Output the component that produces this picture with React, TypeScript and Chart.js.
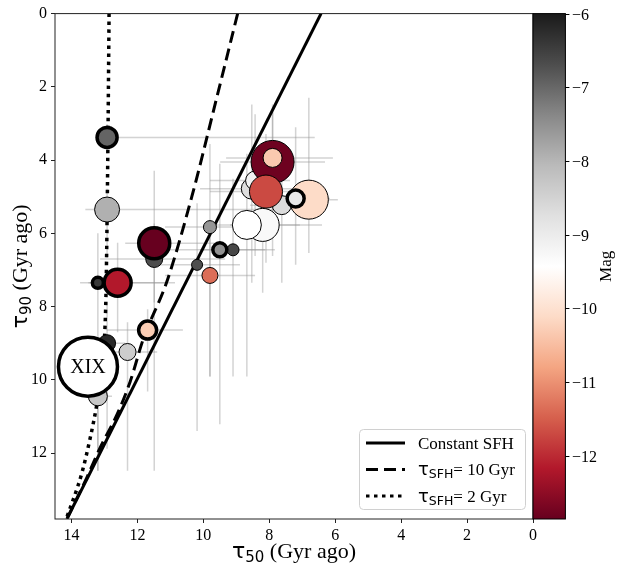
import React, { useEffect, useRef } from "react";
import { Chart, registerables } from "chart.js";

Chart.register(...registerables);

// ---------------- data ----------------
const pointLabels = ["", "", "", "", "", "", "", "", "", "", "", "", "", "", "", "XIX", "", "", "", "", "", "", "", "", "", ""];
const tau50 = [12.92, 12.92, 11.49, 11.49, 9.8, 10.19, 9.8, 9.1, 9.5, 12.6, 13.2, 11.69, 12.3, 12.92, 13.2, 13.5, 8.53, 8.43, 7.62, 7.9, 7.9, 8.1, 8.2, 8.68, 6.8, 7.2];
const tau90 = [3.38, 5.35, 6.7, 6.27, 5.83, 6.86, 7.15, 6.45, 6.45, 7.35, 7.35, 8.64, 9.24, 9.0, 10.45, 9.64, 4.78, 4.56, 5.23, 4.05, 3.94, 4.86, 5.77, 5.77, 5.08, 5.05];
const magV = [-6.96, -7.92, -6.69, -12.86, -7.58, -6.7, -11.35, -6.6, -7.5, -12.17, -6.4, -10.3, -8.4, -6.2, -8.3, -9.43, -8.7, -9.15, -8.65, -12.8, -10.35, -11.7, -9.3, -9.43, -10.1, -8.95];
const bubbleR = [10, 12.5, 8.5, 15.5, 6.5, 5.5, 8, 6, 7, 13.5, 5.5, 9, 8.5, 8.5, 9.5, 29.5, 10.5, 9.5, 9.5, 21.5, 9.5, 16.5, 16.5, 14.5, 19.5, 8.5];
const highlighted = [1, 0, 0, 1, 0, 0, 0, 0, 1, 1, 1, 1, 0, 0, 0, 1, 0, 0, 0, 0, 0, 0, 0, 0, 0, 1];
const tau50Old = [13.28, 13.58, 13.13, 12.37, 11.16, 11.46, 11.16, 10.1, 11.31, 13.49, 13.74, 12.93, 13.04, 13.28, 13.58, 13.8, 10.1, 9.8, 8.58, 9.49, 9.31, 9.8, 9.19, 9.65, 7.68, 8.28];
const tau50Young = [6.62, 7.07, 9.34, 9.65, 8.28, 8.89, 8.43, 7.83, 8.13, 10.86, 11.16, 10.62, 11.4, 12.37, 12.77, 13.2, 7.07, 7.37, 6.46, 6.31, 6.07, 6.77, 6.4, 7.07, 5.92, 6.16];
const tau90Young = [3.02, 4.78, 5.73, 4.29, 3.56, 5.18, 5.86, 4.51, 4.1, 6.26, 6.0, 8.07, 8.43, 7.89, 9.78, 9.3, 2.48, 2.75, 3.56, 2.67, 2.48, 3.29, 3.83, 3.83, 2.3, 3.1];
const tau90Old = [3.83, 6.67, 12.48, 7.89, 9.91, 11.4, 9.91, 9.91, 11.21, 8.7, 12.48, 10.32, 12.48, 11.88, 12.48, 10.0, 7.35, 6.62, 7.35, 6.0, 6.62, 6.8, 7.62, 9.91, 6.54, 6.86];

const constTau50 = [6.43, 14.14];
const constTau90 = [0, 13.8];
const sfh10Tau50 = [8.96, 9.65, 10.35, 11.1, 11.82, 12.22, 12.62, 13.13, 13.53, 14.14];
const sfh10Tau90 = [0, 2.5, 5.0, 7.3, 8.88, 10.05, 10.95, 11.85, 12.66, 13.8];
const sfh2Tau50 = [12.86, 12.9, 12.95, 12.99, 13.08, 13.23, 13.43, 13.69, 14.16];
const sfh2Tau90 = [0, 4.0, 7.5, 8.7, 9.8, 10.67, 11.58, 12.56, 13.8];

const xTicks = [0, 2, 4, 6, 8, 10, 12, 14];
const yTicks = [0, 2, 4, 6, 8, 10, 12];
const magTicks = [-12, -11, -10, -9, -8, -7, -6];
const magMin = -12.86;
const magMax = -6;

// ---------------- styling helpers ----------------
const RDGY = [
  [103, 0, 31], [178, 24, 43], [214, 96, 77], [244, 165, 130], [253, 219, 199],
  [255, 255, 255], [224, 224, 224], [186, 186, 186], [135, 135, 135], [77, 77, 77], [26, 26, 26],
];
function rdgy(t: number): string {
  const tt = Math.max(0, Math.min(1, t));
  const s = tt * 10;
  const i = Math.min(9, Math.floor(s));
  const f = s - i;
  const a = RDGY[i], b = RDGY[i + 1];
  const c = [0, 1, 2].map((k) => Math.round(a[k] + (b[k] - a[k]) * f));
  return `rgb(${c[0]},${c[1]},${c[2]})`;
}
const magToT = (m: number) => (m - magMin) / (magMax - magMin);

const SERIF = "'Liberation Serif', 'Times New Roman', serif";
const SANS = "'DejaVu Sans', sans-serif";

type Part = { t: string; font: string; dy: number };
function drawRich(ctx: CanvasRenderingContext2D, parts: Part[], x: number, y: number, align: "left" | "center") {
  let w = 0;
  for (const p of parts) { ctx.font = p.font; w += ctx.measureText(p.t).width; }
  let cx = align === "center" ? x - w / 2 : x;
  ctx.textAlign = "left";
  ctx.textBaseline = "alphabetic";
  for (const p of parts) {
    ctx.font = p.font;
    ctx.fillText(p.t, cx, y + p.dy);
    cx += ctx.measureText(p.t).width;
  }
}

const errorBarPlugin = {
  id: "errorBars",
  beforeDatasetsDraw(chart: any) {
    const { ctx, chartArea, scales } = chart;
    const xs = scales.x, ys = scales.y;
    ctx.save();
    ctx.beginPath();
    ctx.rect(chartArea.left, chartArea.top, chartArea.right - chartArea.left, chartArea.bottom - chartArea.top);
    ctx.clip();
    ctx.strokeStyle = "rgba(150,150,150,0.42)";
    ctx.lineWidth = 1.5;
    for (let i = 0; i < tau50.length; i++) {
      const px = xs.getPixelForValue(tau50[i]);
      const py = ys.getPixelForValue(tau90[i]);
      ctx.beginPath();
      ctx.moveTo(xs.getPixelForValue(tau50Old[i]), py);
      ctx.lineTo(xs.getPixelForValue(tau50Young[i]), py);
      ctx.moveTo(px, ys.getPixelForValue(tau90Young[i]));
      ctx.lineTo(px, ys.getPixelForValue(tau90Old[i]));
      ctx.stroke();
    }
    ctx.restore();
  },
};

const decorPlugin = {
  id: "decor",
  afterDatasetsDraw(chart: any) {
    const { ctx, scales } = chart;
    ctx.save();
    ctx.fillStyle = "#000";
    ctx.font = `20px ${SERIF}`;
    ctx.textAlign = "center";
    ctx.textBaseline = "middle";
    for (let i = 0; i < pointLabels.length; i++) {
      if (!pointLabels[i]) continue;
      ctx.fillText(pointLabels[i], scales.x.getPixelForValue(tau50[i]), scales.y.getPixelForValue(tau90[i]) + 1);
    }
    ctx.restore();
  },
  afterDraw(chart: any) {
    const { ctx, chartArea } = chart;
    const { left, right, top, bottom } = chartArea;
    ctx.save();
    // frame
    ctx.strokeStyle = "#222";
    ctx.lineWidth = 1;
    ctx.strokeRect(left, top, right - left, bottom - top);

    // colorbar
    const cbL = right, cbW = 32.4;
    const grad = ctx.createLinearGradient(0, bottom, 0, top);
    for (let k = 0; k < RDGY.length; k++) {
      const c = RDGY[k];
      grad.addColorStop(k / 10, `rgb(${c[0]},${c[1]},${c[2]})`);
    }
    ctx.fillStyle = grad;
    ctx.fillRect(cbL, top, cbW, bottom - top);
    ctx.strokeStyle = "#000";
    ctx.strokeRect(cbL, top, cbW, bottom - top);
    const magPix = (m: number) => bottom - ((m - magMin) / (magMax - magMin)) * (bottom - top);
    ctx.fillStyle = "#000";
    ctx.font = `16px ${SERIF}`;
    ctx.textAlign = "left";
    ctx.textBaseline = "middle";
    for (const m of magTicks) {
      const yy = Math.round(magPix(m)) + 0.5;
      ctx.beginPath();
      ctx.moveTo(cbL + cbW, yy);
      ctx.lineTo(cbL + cbW + 4, yy);
      ctx.stroke();
      ctx.fillText("\u2212" + Math.abs(m), cbL + cbW + 6.5, yy + 1);
    }
    ctx.save();
    ctx.translate(607, (top + bottom) / 2);
    ctx.rotate(-Math.PI / 2);
    ctx.textAlign = "center";
    ctx.textBaseline = "middle";
    ctx.font = `17px ${SERIF}`;
    ctx.fillText("Mag", 0, 0);
    ctx.restore();

    // axis titles
    ctx.fillStyle = "#000";
    drawRich(ctx, [
      { t: "\u03c4", font: `22px ${SANS}`, dy: 0 },
      { t: "50", font: `15px ${SANS}`, dy: 4 },
      { t: " (Gyr ago)", font: `22px ${SERIF}`, dy: 0 },
    ], (left + right) / 2, 558, "center");
    ctx.save();
    ctx.translate(27, (top + bottom) / 2);
    ctx.rotate(-Math.PI / 2);
    drawRich(ctx, [
      { t: "\u03c4", font: `22px ${SANS}`, dy: 0 },
      { t: "90", font: `15px ${SANS}`, dy: 4 },
      { t: " (Gyr ago)", font: `22px ${SERIF}`, dy: 0 },
    ], 0, 0, "center");
    ctx.restore();

    // legend
    const bx = 359.5, by = 429.5, bw = 166, bh = 80, rr = 4;
    ctx.beginPath();
    ctx.moveTo(bx + rr, by);
    ctx.lineTo(bx + bw - rr, by);
    ctx.arcTo(bx + bw, by, bx + bw, by + rr, rr);
    ctx.lineTo(bx + bw, by + bh - rr);
    ctx.arcTo(bx + bw, by + bh, bx + bw - rr, by + bh, rr);
    ctx.lineTo(bx + rr, by + bh);
    ctx.arcTo(bx, by + bh, bx, by + bh - rr, rr);
    ctx.lineTo(bx, by + rr);
    ctx.arcTo(bx, by, bx + rr, by, rr);
    ctx.closePath();
    ctx.fillStyle = "rgba(255,255,255,0.85)";
    ctx.fill();
    ctx.strokeStyle = "#d0d0d0";
    ctx.lineWidth = 1;
    ctx.stroke();
    const rows = [443, 469.5, 496];
    const dashes = [[], [12, 6], [3.5, 4.5]];
    ctx.strokeStyle = "#000";
    ctx.lineWidth = 3;
    rows.forEach((ry, k) => {
      ctx.setLineDash(dashes[k] as number[]);
      ctx.beginPath();
      ctx.moveTo(366, ry);
      ctx.lineTo(405, ry);
      ctx.stroke();
    });
    ctx.setLineDash([]);
    ctx.fillStyle = "#000";
    drawRich(ctx, [{ t: "Constant SFH", font: `17px ${SERIF}`, dy: 0 }], 418, rows[0] + 5.5, "left");
    drawRich(ctx, [
      { t: "\u03c4", font: `18px ${SANS}`, dy: 0 },
      { t: "SFH", font: `12.5px ${SANS}`, dy: 3 },
      { t: "= 10 Gyr", font: `17px ${SERIF}`, dy: 0 },
    ], 418, rows[1] + 5.5, "left");
    drawRich(ctx, [
      { t: "\u03c4", font: `18px ${SANS}`, dy: 0 },
      { t: "SFH", font: `12.5px ${SANS}`, dy: 3 },
      { t: "= 2 Gyr", font: `17px ${SERIF}`, dy: 0 },
    ], 418, rows[2] + 5.5, "left");
    ctx.restore();
  },
};

export default function App() {
  const ref = useRef<HTMLCanvasElement | null>(null);
  useEffect(() => {
    document.body.style.margin = "0";
    const canvas = ref.current;
    if (!canvas) return;
    const toXY = (xs: number[], ys: number[]) => xs.map((x, i) => ({ x, y: ys[i] }));
    const bubbles = tau50.map((x, i) => ({ x, y: tau90[i], r: bubbleR[i] }));
    const chart = new Chart(canvas, {
      type: "bubble",
      data: {
        datasets: [
          {
            type: "line",
            label: "Constant SFH",
            data: toXY(constTau50, constTau90),
            borderColor: "#000",
            borderWidth: 3,
            pointRadius: 0,
            fill: false,
            order: 3,
          } as any,
          {
            type: "line",
            label: "tau10",
            data: toXY(sfh10Tau50, sfh10Tau90),
            borderColor: "#000",
            borderWidth: 3,
            borderDash: [12, 6],
            pointRadius: 0,
            fill: false,
            cubicInterpolationMode: "monotone",
            order: 3,
          } as any,
          {
            type: "line",
            label: "tau2",
            data: toXY(sfh2Tau50, sfh2Tau90),
            borderColor: "#000",
            borderWidth: 3.5,
            borderDash: [3.5, 4.5],
            pointRadius: 0,
            fill: false,
            cubicInterpolationMode: "monotone",
            order: 3,
          } as any,
          {
            type: "bubble",
            label: "galaxies",
            data: bubbles,
            backgroundColor: magV.map((m) => rdgy(magToT(m))),
            borderColor: "#000",
            borderWidth: highlighted.map((h) => (h ? 3.5 : 1)),
            order: 1,
          } as any,
        ],
      },
      options: {
        animation: false,
        responsive: false,
        devicePixelRatio: 1,
        events: [],
        layout: { autoPadding: false, padding: { top: 8, right: 85, left: 0, bottom: 0 } },
        plugins: { legend: { display: false }, tooltip: { enabled: false } },
        scales: {
          x: {
            type: "linear",
            reverse: true,
            min: 0,
            max: 14.5,
            afterBuildTicks: (s: any) => { s.ticks = xTicks.map((v) => ({ value: v })); },
            afterFit: (s: any) => { s.height = 53; },
            border: { display: false },
            grid: { display: true, drawOnChartArea: false, drawTicks: true, tickLength: 4, color: "#222" },
            ticks: { color: "#000", font: { family: SERIF, size: 16 }, padding: 3, maxRotation: 0 },
          },
          y: {
            type: "linear",
            reverse: true,
            min: 0,
            max: 13.8,
            afterBuildTicks: (s: any) => { s.ticks = yTicks.map((v) => ({ value: v })); },
            afterFit: (s: any) => { s.width = 55; },
            border: { display: false },
            grid: { display: true, drawOnChartArea: false, drawTicks: true, tickLength: 4, color: "#222" },
            ticks: { color: "#000", font: { family: SERIF, size: 16 }, padding: 4 },
          },
        },
      } as any,
      plugins: [errorBarPlugin, decorPlugin],
    });
    return () => chart.destroy();
  }, []);
  return (
    <div style={{ width: 618, height: 572 }}>
      <canvas ref={ref} width={618} height={572} style={{ display: "block" }} />
    </div>
  );
}
